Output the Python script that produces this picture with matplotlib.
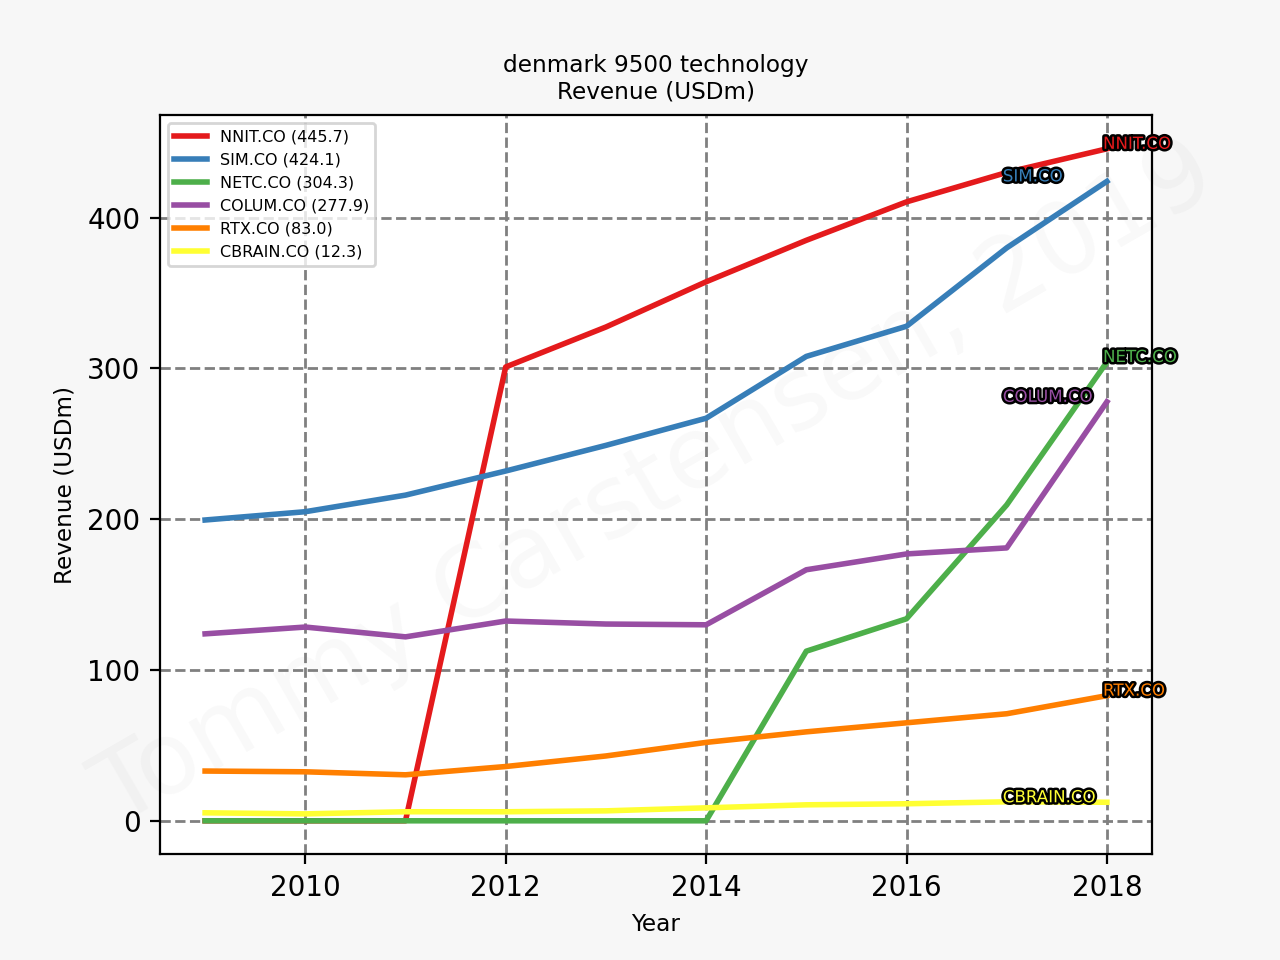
import matplotlib
matplotlib.use("Agg")
import matplotlib.pyplot as plt
import matplotlib.patheffects as pe

years = [2009, 2010, 2011, 2012, 2013, 2014, 2015, 2016, 2017, 2018]

tickers = ["NNIT.CO", "SIM.CO", "NETC.CO", "COLUM.CO", "RTX.CO", "CBRAIN.CO"]
colors = ["#e41a1c", "#377eb8", "#4daf4a", "#984ea3", "#ff7f00", "#ffff33"]

nnit = [0, 0, 0, 301, 327.5, 357.5, 385, 410.5, 430, 445.7]
sim = [199.5, 205, 216, 232, 249, 267, 308, 328, 380, 424.1]
netc = [0, 0, 0, 0, 0, 0, 112.5, 134, 209.5, 304.3]
colum = [124, 128.5, 122, 132.5, 130.5, 130, 166.5, 177, 181, 277.9]
rtx = [33, 32.5, 30.5, 36, 43, 52, 59, 65, 71, 83.0]
cbrain = [5.3, 4.6, 6, 6, 6.6, 8.6, 10.6, 11.3, 12.6, 12.3]

series = [nnit, sim, netc, colum, rtx, cbrain]

fig, ax = plt.subplots(figsize=(6.4, 4.8), dpi=200)
fig.patch.set_facecolor("#f7f7f7")

for i, (name, vals, c) in enumerate(zip(tickers, series, colors)):
    ax.plot(years, vals, color=c, lw=2, label="%s (%.1f)" % (name, vals[-1]))
    # alternate label position between last and second last year
    xlab = years[-1] if i % 2 == 0 else years[-2]
    ax.annotate(name, (xlab, vals[-1]), xytext=(-1.4, 0), textcoords="offset points",
                color=c, fontsize=6, va="baseline", ha="left",
                path_effects=[pe.withStroke(linewidth=1.8, foreground="black")])

ax.grid(True, ls="--", color="gray", lw=1)
ax.set_xlabel("Year", fontsize="small")
ax.set_ylabel("Revenue (USDm)", fontsize="small")
ax.set_title("denmark 9500 technology\nRevenue (USDm)", fontsize="small")
ax.legend(loc="upper left", fontsize="xx-small")

ax.text(0.5, 0.5, "Tommy Carstensen, 2019", transform=ax.transAxes,
        fontsize=36, color="gray", alpha=0.05, rotation=30,
        ha="center", va="center", zorder=0, clip_on=False)

fig.savefig("out.png", facecolor=fig.get_facecolor())
